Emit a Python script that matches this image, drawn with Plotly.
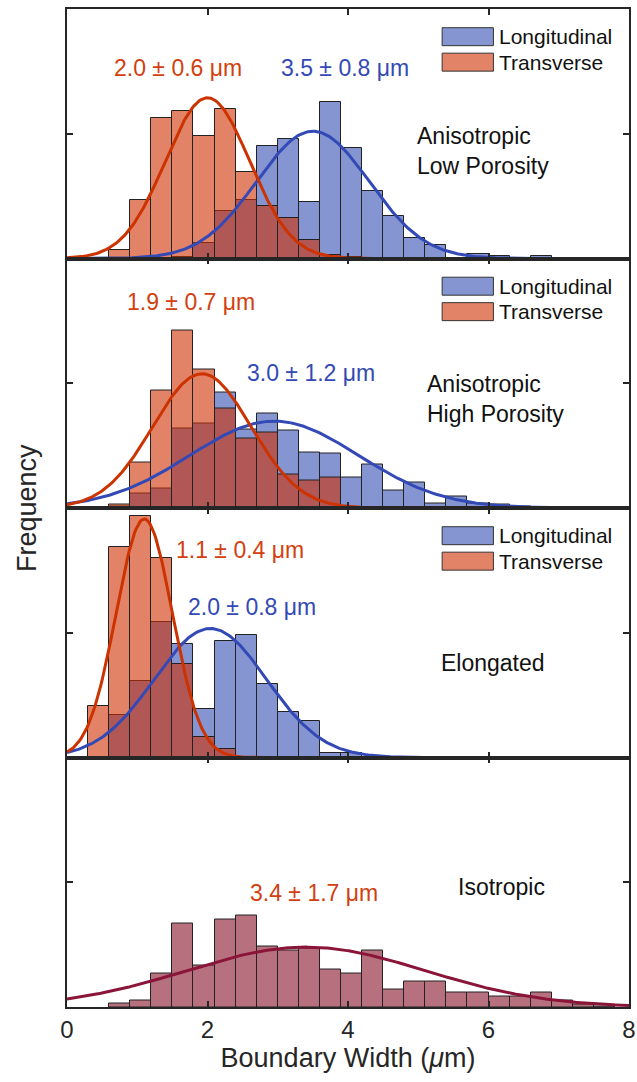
import numpy as np
import plotly.graph_objects as go
from plotly.subplots import make_subplots

# ---------------- data ----------------
BIN_WIDTH = 0.3
BIN_LEFT = [0.0, 0.3, 0.6, 0.9, 1.2, 1.5, 1.8, 2.1, 2.4, 2.7, 3.0, 3.3, 3.6, 3.9,
            4.2, 4.5, 4.8, 5.1, 5.4, 5.7, 6.0, 6.3, 6.6, 6.9, 7.2, 7.5, 7.8]

# Panel 1: Anisotropic Low Porosity
p1_long = [0, 0, 0, 0, 0, 0.8, 6.2, 19.1, 23.5, 45.0, 47.7, 22.8, 62.6, 44.3,
           26.9, 17.1, 8.2, 5.4, 0, 2.0, 1.0, 0, 1.0, 0, 0, 0, 0]
p1_trans = [0, 0, 3.6, 23.6, 56.5, 59.2, 49.3, 60.1, 34.6, 20.9, 16.4, 7.4, 1.5, 0.6,
            0, 0, 0, 0, 0, 0, 0, 0, 0, 0, 0, 0, 0]
# Panel 2: Anisotropic High Porosity
p2_long = [0, 0, 0.5, 5.8, 7.8, 32.0, 33.7, 46.1, 31.5, 37.7, 31.2, 22.3, 21.8, 12.2,
           17.3, 7.2, 10.2, 2.0, 4.6, 2.0, 1.5, 0.8, 0, 0, 0, 0, 0]
p2_trans = [0, 0, 1.6, 18.2, 47.1, 71.2, 55.5, 39.8, 27.8, 30.1, 13.4, 10.9, 12.1, 0,
            0, 0, 0, 0, 0, 0, 0, 0, 0, 0, 0, 0, 0]
# Panel 3: Elongated
p3_long = [0, 0, 16.9, 30.6, 54.4, 45.5, 19.5, 46.8, 49.3, 29.4, 18.1, 14.5, 2.0, 2.0,
           0, 0, 0, 0, 0, 0, 0, 0, 0, 0, 0, 0, 0]
p3_trans = [0, 20.5, 84.2, 96.9, 79.9, 37.4, 8.1, 3.6, 0, 0, 0, 0, 0, 0,
            0, 0, 0, 0, 0, 0, 0, 0, 0, 0, 0, 0, 0]
# Panel 4: Isotropic
p4_iso = [0, 0, 1.5, 2.8, 13.6, 33.4, 16.8, 35.0, 36.6, 24.3, 22.6, 23.4, 15.0, 13.6,
          22.7, 7.2, 10.3, 10.3, 5.8, 5.8, 4.3, 4.3, 5.8, 2.7, 1.0, 0.4, 0]

# Gaussian fits: (mean, sd, peak height)
fit_p1_long = (3.5, 0.8, 51.0)
fit_p1_trans = (2.0, 0.6, 64.4)
fit_p2_long = (2.95, 1.2, 34.8)
fit_p2_trans = (1.92, 0.7, 53.8)
fit_p3_long = (2.04, 0.8, 51.7)
fit_p3_trans = (1.1, 0.4, 95.6)
fit_p4_iso = (3.4, 1.7, 24.0)

labels_long = ["3.5 ± 0.8 μm", "3.0 ± 1.2 μm", "2.0 ± 0.8 μm"]
labels_trans = ["2.0 ± 0.6 μm", "1.9 ± 0.7 μm", "1.1 ± 0.4 μm"]
label_iso = "3.4 ± 1.7 μm"
panel_names = ["Anisotropic<br>Low Porosity", "Anisotropic<br>High Porosity", "Elongated", "Isotropic"]
legend_names = ["Longitudinal", "Transverse"]
X_TICKS = [0, 2, 4, 6, 8]

# ---------------- styling ----------------
FONT = "Liberation Sans, Arial, Helvetica, sans-serif"
BLUE_FILL = "rgba(50,78,178,0.6)"
ORANGE_FILL = "rgba(207,48,3,0.6)"
ISO_FILL = "rgba(135,17,40,0.6)"
BLUE_LINE = "#3349B5"
ORANGE_LINE = "#CC3300"
ISO_LINE = "#8A1538"
TXT_ORANGE = "#D2400F"
TXT_BLUE = "#3349B5"
EDGE = "#222222"
AX = "#262626"

centers = [b + BIN_WIDTH / 2 for b in BIN_LEFT]
xs = np.linspace(0, 8, 400)


def nz(v):
    return [None if a == 0 else a for a in v]


def gauss(fit):
    mu, sd, amp = fit
    return amp * np.exp(-(xs - mu) ** 2 / (2 * sd ** 2))


fig = make_subplots(rows=4, cols=1, shared_xaxes=True, vertical_spacing=0)


def add_bars(row, vals, fill):
    fig.add_trace(go.Bar(x=centers, y=nz(vals), width=BIN_WIDTH,
                         marker=dict(color=fill, line=dict(color=EDGE, width=1)),
                         showlegend=False), row=row, col=1)


def add_curve(row, fit, color):
    fig.add_trace(go.Scatter(x=xs, y=gauss(fit), mode="lines",
                             line=dict(color=color, width=3), showlegend=False),
                  row=row, col=1)


pairs = [(p1_long, p1_trans, fit_p1_long, fit_p1_trans),
         (p2_long, p2_trans, fit_p2_long, fit_p2_trans),
         (p3_long, p3_trans, fit_p3_long, fit_p3_trans)]
for i, (lo, tr, flo, ftr) in enumerate(pairs):
    r = i + 1
    add_bars(r, lo, BLUE_FILL)
    add_bars(r, tr, ORANGE_FILL)
    add_curve(r, flo, BLUE_LINE)
    add_curve(r, ftr, ORANGE_LINE)

add_bars(4, p4_iso, ISO_FILL)
add_curve(4, fit_p4_iso, ISO_LINE)

# ---------------- axes ----------------
for r in range(1, 5):
    fig.update_xaxes(range=[0, 8], tickvals=X_TICKS, ticks="inside", ticklen=6,
                     tickwidth=1.5, tickcolor=AX, showline=True, linecolor=AX,
                     linewidth=1.5, mirror="ticks", showgrid=False, zeroline=False,
                     automargin=False,
                     tickfont=dict(family=FONT, size=24, color=AX), row=r, col=1)
    fig.update_yaxes(range=[0, 100], tickvals=[50], showticklabels=False,
                     ticks="inside", ticklen=6, tickwidth=1.5, tickcolor=AX,
                     showline=True, linecolor=AX, linewidth=1.5, mirror="ticks",
                     showgrid=False, zeroline=False, automargin=False, row=r, col=1)

fig.update_xaxes(title=dict(text="Boundary Width (<i>μ</i>m)", standoff=6,
                            font=dict(family=FONT, size=27, color=AX)), row=4, col=1)

# ---------------- annotations ----------------
ann = []
shapes = []
# (orange x, orange y, blue x, blue y, name x, name y, name anchor)
pos = [(1.575, 0.763, 3.96, 0.763, 4.95, 0.43, "left"),
       (1.77, 0.826, 3.47, 0.541, 5.10, 0.435, "left"),
       (2.46, 0.833, 2.63, 0.605, 6.06, 0.377, "center")]
for i in range(3):
    r = i + 1
    xr = "x" if r == 1 else f"x{r}"
    yr = ("y" if r == 1 else f"y{r}") + " domain"
    ox, oy, bx, by, nx, ny, na = pos[i]
    ann.append(dict(x=ox, y=oy, xref=xr, yref=yr, text=labels_trans[i], showarrow=False,
                    xanchor="center", yanchor="middle",
                    font=dict(family=FONT, size=23, color=TXT_ORANGE)))
    ann.append(dict(x=bx, y=by, xref=xr, yref=yr, text=labels_long[i], showarrow=False,
                    xanchor="center", yanchor="middle",
                    font=dict(family=FONT, size=23, color=TXT_BLUE)))
    ann.append(dict(x=nx, y=ny, xref=xr, yref=yr, text=panel_names[i], showarrow=False,
                    xanchor=na, yanchor="middle", align="left",
                    font=dict(family=FONT, size=23, color="#111111")))
    # legend box
    for j, (fill, name) in enumerate(zip([BLUE_FILL, ORANGE_FILL], legend_names)):
        y0 = 0.853 - j * 0.102
        y1 = 0.925 - j * 0.102
        shapes.append(dict(type="rect", xref=xr, yref=yr, x0=5.34, x1=6.07, y0=y0, y1=y1,
                           fillcolor=fill, line=dict(color="#333333", width=1)))
        ann.append(dict(x=6.12, y=(y0 + y1) / 2, xref=xr, yref=yr, text=name,
                        showarrow=False, xanchor="left", yanchor="middle",
                        font=dict(family=FONT, size=21, color="#111111")))

ann.append(dict(x=3.52, y=0.455, xref="x4", yref="y4 domain", text=label_iso,
                showarrow=False, xanchor="center", yanchor="middle",
                font=dict(family=FONT, size=23, color=TXT_ORANGE)))
ann.append(dict(x=6.18, y=0.481, xref="x4", yref="y4 domain", text=panel_names[3],
                showarrow=False, xanchor="center", yanchor="middle",
                font=dict(family=FONT, size=23, color="#111111")))
ann.append(dict(x=-0.071, y=0.5, xref="paper", yref="paper", text="Frequency",
                textangle=-90, showarrow=False, xanchor="center", yanchor="middle",
                font=dict(family=FONT, size=27, color=AX)))

fig.update_layout(width=637, height=1082, barmode="overlay", bargap=0,
                  margin=dict(l=67, r=8, t=9, b=75),
                  paper_bgcolor="white", plot_bgcolor="white",
                  annotations=ann, shapes=shapes, showlegend=False,
                  font=dict(family=FONT))

fig.write_html("out.html")
